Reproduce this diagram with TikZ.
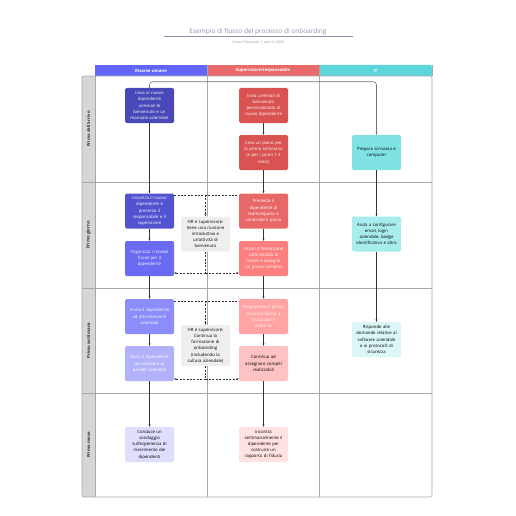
\documentclass[tikz,border=0pt]{standalone}
\usepackage{fontspec}
\setmainfont{Open Sans}
\usetikzlibrary{arrows.meta}

\definecolor{titlegray}{HTML}{8C93A8}
\definecolor{lanegray}{HTML}{D6D6D6}
\definecolor{laneline}{HTML}{A8A8A8}
\definecolor{hrhead}{HTML}{6166F8}
\definecolor{suphead}{HTML}{E86A6A}
\definecolor{ithead}{HTML}{5CD6DA}
\definecolor{hrA}{HTML}{4848B8}
\definecolor{hrB}{HTML}{5353D2}
\definecolor{hrC}{HTML}{6A6AF2}
\definecolor{hrD}{HTML}{8C8CFA}
\definecolor{hrE}{HTML}{B2B2FB}
\definecolor{hrF}{HTML}{DEDEFD}
\definecolor{supA}{HTML}{D95353}
\definecolor{supB}{HTML}{E86868}
\definecolor{supC}{HTML}{FC8080}
\definecolor{supD}{HTML}{FFA3A3}
\definecolor{supE}{HTML}{FFC2C2}
\definecolor{supF}{HTML}{FFE3E3}
\definecolor{itA}{HTML}{80E3E3}
\definecolor{itB}{HTML}{A8EDED}
\definecolor{itC}{HTML}{DAF6F6}
\definecolor{joint}{HTML}{EDEFED}
\definecolor{linedark}{HTML}{333333}

\begin{document}
\begin{tikzpicture}[x=1pt,y=-1pt,
    box/.style={rectangle, rounded corners=1.5pt, minimum width=49pt, minimum height=35pt,
      text width=47pt, align=center, inner sep=0pt, font=\fontsize{4.3}{6.2}\selectfont},
    darkbox/.style={box, text=white},
    lanelabel/.style={rotate=90, font=\bfseries\fontsize{4.3}{5}\selectfont, text=black!80},
    headlabel/.style={font=\bfseries\fontsize{4.3}{5}\selectfont, text=white},
    lane/.style={draw=laneline, line width=0.6pt},
    flow/.style={draw=linedark, line width=0.6pt, -{Stealth[length=2.4pt,width=2pt]}},
    flowline/.style={draw=linedark, line width=0.6pt},
    flowdash/.style={draw=linedark, line width=0.6pt, dash pattern=on 2pt off 1.4pt}]

    \useasboundingbox (0,0) rectangle (516,516);

    % title
    \node[text=titlegray, font=\fontsize{6.5}{8}\selectfont] (title) at (258,32) {Esempio di flusso del processo di onboarding};
    \draw[titlegray, line width=0.5pt] (164,36.5) -- (353,36.5);
    \node[text=titlegray, font=\fontsize{3.4}{4}\selectfont] (subtitle) at (258,43) {System Template \,|\, April 3, 2025};

    % lanes
    \fill[hrhead] (95,65) rectangle (207,76);
    \fill[suphead] (207,65) rectangle (319,76);
    \fill[ithead] (319,65) [rounded corners=1.5pt] -- (432,65) [sharp corners] -- (432,76) -- (319,76) -- cycle;
    \fill[lanegray] (82,76) rectangle (95,497);
    \draw[lane, rounded corners=2pt] (82,76) rectangle (432,497);
    \draw[lane] (82,182) -- (432,182);
    \draw[lane] (82,288) -- (432,288);
    \draw[lane] (82,393) -- (432,393);
    \draw[lane] (95,76) -- (95,497);
    \draw[lane] (207,65) -- (207,497);
    \draw[lane] (319,65) -- (319,497);
    \draw[lane] (432,65) -- (432,76);

    \node[headlabel] (hrHead) at (151,70.5) {Risorse umane};
    \node[headlabel] (supHead) at (263,70.5) {Supervisore/responsabile};
    \node[headlabel] (itHead) at (375.5,70.5) {IT};

    \node[lanelabel] (rowArrive) at (88.5,129) {Prima dell'arrivo};
    \node[lanelabel] (rowDay) at (88.5,235) {Primo giorno};
    \node[lanelabel] (rowWeek) at (88.5,340.5) {Prima settimana};
    \node[lanelabel] (rowMonth) at (88.5,445) {Primo mese};

    % prima dell'arrivo
    \node[darkbox, fill=hrA] (hrEmail) at (149.5,105.5) {Invia al nuovo\\dipendente\\un'email di\\benvenuto e un\\manuale aziendale};
    \node[darkbox, fill=supA] (supEmail) at (263.5,105.5) {Invia un'email di\\benvenuto\\personalizzata al\\nuovo dipendente};
    \node[darkbox, fill=supA] (supPlan) at (263.5,152.5) {Crea un piano per\\la prima settimana\\(e per i primi 1-3\\mesi)};
    \node[box, fill=itA] (itDesk) at (376.5,152.5) {Prepara scrivania e\\computer};

    % primo giorno
    \node[darkbox, fill=hrB] (hrMeet) at (149.5,211) {Incontra il nuovo\\dipendente e\\presenta il\\responsabile e il\\supervisore};
    \node[darkbox, fill=hrC] (hrTax) at (149.5,258.5) {Organizza i moduli\\fiscali per il\\dipendente};
    \node[box, fill=joint] (jointIntro) at (205.5,234) {HR e supervisore:\\tiene una riunione\\introduttiva e\\un'attività di\\benvenuto};
    \node[darkbox, fill=supB] (supTeam) at (263.5,211) {Presenta il\\dipendente al\\team/reparto e\\condivide il piano};
    \node[darkbox, fill=supC] (supTraining) at (263.5,258.5) {Inizia la formazione\\sulle attività di\\lavoro e assegna\\un primo compito};
    \node[box, fill=itB] (itSetup) at (376.5,234) {Aiuta a configurare\\email, login\\aziendale, badge\\identificativo e altro};

    % prima settimana
    \node[darkbox, fill=hrD] (hrEvents) at (149.5,316.5) {Invita il dipendente\\ad attività/eventi\\aziendali};
    \node[darkbox, fill=hrE] (hrBenefits) at (149.5,363.5) {Aiuta il dipendente\\ad accedere ai\\benefit aziendali};
    \node[box, fill=joint, minimum height=41pt] (jointTraining) at (205.5,345.5) {HR e supervisore:\\Continua la\\formazione di\\onboarding\\(includendo la\\cultura aziendale)};
    \node[darkbox, fill=supD] (supCheckin) at (263.5,316.5) {Programma il primo\\incontro faccia a\\faccia per il\\check-in};
    \node[box, fill=supE] (supTasks) at (263.5,363.5) {Continua ad\\assegnare compiti\\realizzabili};
    \node[box, fill=itC] (itQuestions) at (376.5,339.5) {Risponde alle\\domande relative al\\software aziendale\\e ai protocolli di\\sicurezza};

    % primo mese
    \node[box, fill=hrF] (hrSurvey) at (149.5,444.5) {Conduce un\\sondaggio\\sull'esperienza di\\inserimento dei\\dipendenti};
    \node[box, fill=supF] (supWeekly) at (263.5,444.5) {Incontra\\settimanalmente il\\dipendente per\\costruire un\\rapporto di fiducia};

    % connectors
    \draw[flow, draw=black!55, rounded corners=3pt] (hrEmail.north) -- ++(0,-6) -| (itDesk.north);
    \draw[flow] (hrEmail) -- (hrMeet);
    \draw[flow] (supEmail) -- (supPlan);
    \draw[flow] (supPlan) -- (supTeam);
    \draw[flow] (itDesk) -- (itSetup);
    \draw[flow] (hrMeet) -- (hrTax);
    \draw[flow] (supTeam) -- (supTraining);
    \draw[flow] (hrTax) -- (hrEvents);
    \draw[flow] (supTraining) -- (supCheckin);
    \draw[flow] (itSetup) -- (itQuestions);
    \draw[flow] (hrEvents) -- (hrBenefits);
    \draw[flow] (supCheckin) -- (supTasks);
    \draw[flow] (hrBenefits) -- (hrSurvey);
    \draw[flow] (supTasks) -- (supWeekly);

    \coordinate (introIn) at (205.5,195);
    \coordinate (introOut) at (205.5,273);
    \draw[flowdash] (hrMeet.east |- introIn) -- (supTeam.west |- introIn);
    \draw[flowdash, -{Stealth[length=2.4pt,width=2pt]}] (introIn) -- (jointIntro.north);
    \draw[flowdash] (jointIntro.south) -- (introOut);
    \draw[flowdash, -{Stealth[length=2.4pt,width=2pt]}] (introOut) -- (hrTax.east |- introOut);
    \draw[flowdash, -{Stealth[length=2.4pt,width=2pt]}] (introOut) -- (supTraining.west |- introOut);

    \coordinate (trainIn) at (205.5,301);
    \coordinate (trainOut) at (205.5,379);
    \draw[flowdash] (hrEvents.east |- trainIn) -- (supCheckin.west |- trainIn);
    \draw[flowdash, -{Stealth[length=2.4pt,width=2pt]}] (trainIn) -- (jointTraining.north);
    \draw[flowdash] (jointTraining.south) -- (trainOut);
    \draw[flowdash, -{Stealth[length=2.4pt,width=2pt]}] (trainOut) -- (hrBenefits.east |- trainOut);
    \draw[flowdash, -{Stealth[length=2.4pt,width=2pt]}] (trainOut) -- (supTasks.west |- trainOut);
\end{tikzpicture}
\end{document}
